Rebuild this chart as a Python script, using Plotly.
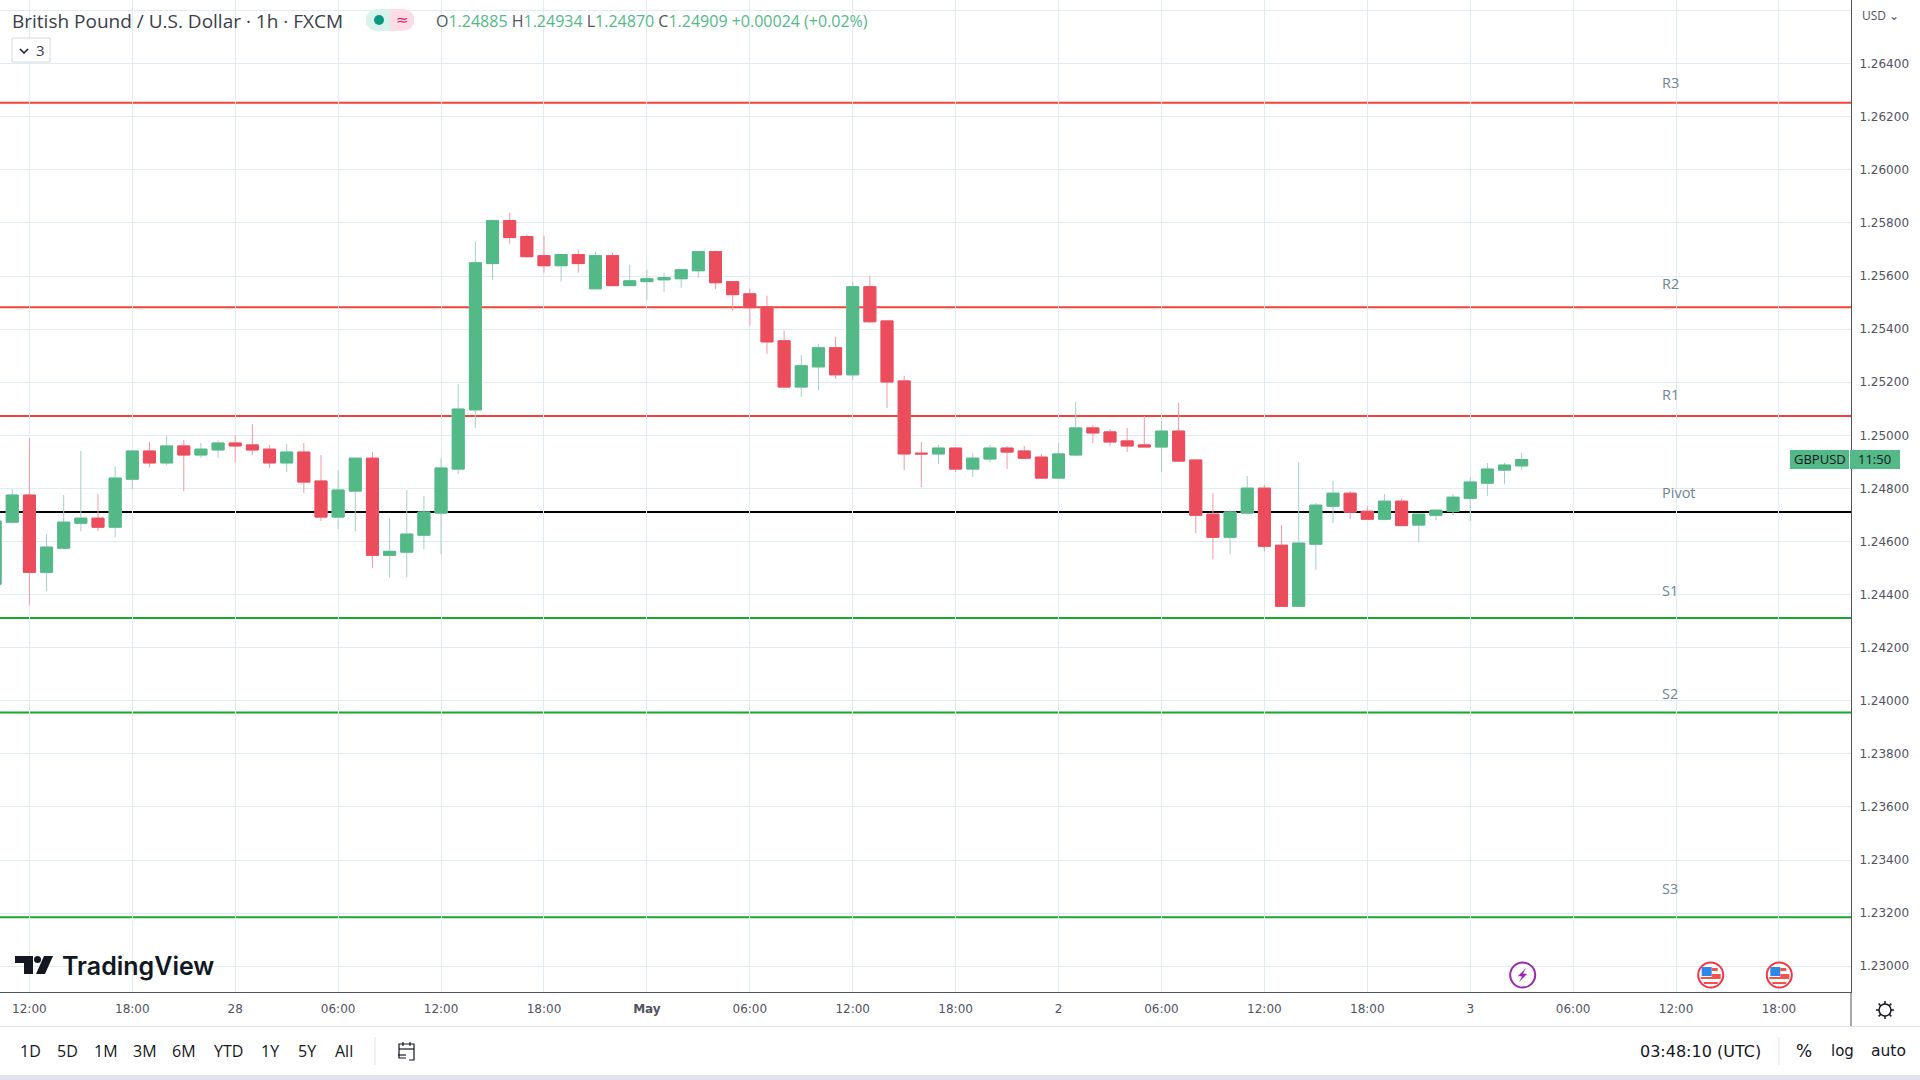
import math
import plotly.graph_objects as go

# candles from 27 Apr 10:00, one per hour
opens = [1.24439,1.24673,1.24775,1.24484,1.24575,1.24669,1.24688,1.24654,1.24835,1.24941,
         1.24896,1.24960,1.24926,1.24945,1.24971,1.24964,1.24948,1.24896,1.24937,1.24828,
         1.24692,1.24790,1.24914,1.24548,1.24560,1.24624,1.24707,1.24873,1.25096,1.25647,
         1.25809,1.25749,1.25677,1.25639,1.25681,1.25552,1.25677,1.25564,1.25579,1.25586,
         1.25590,1.25620,1.25692,1.25579,1.25533,1.25484,1.25356,1.25182,1.25258,1.25330,
         1.25228,1.25560,1.25431,1.25205,1.24933,1.24930,1.24952,1.24873,1.24911,1.24952,
         1.24941,1.24918,1.24839,1.24926,1.25028,1.25013,1.24979,1.24964,1.24956,1.25016,
         1.24907,1.24703,1.24616,1.24707,1.24801,1.24586,1.24356,1.24590,1.24733,1.24782,
         1.24714,1.24684,1.24752,1.24662,1.24699,1.24714,1.24763,1.24820,1.24869,1.24885]
highs = [1.24677,1.24797,1.24990,1.24628,1.24775,1.24941,1.24779,1.24884,1.24941,1.24975,
         1.24997,1.24982,1.24971,1.24982,1.25001,1.25043,1.24964,1.24967,1.24971,1.24926,
         1.24869,1.24914,1.24937,1.24688,1.24794,1.24771,1.24914,1.25194,1.25730,1.25813,
         1.25839,1.25756,1.25752,1.25684,1.25699,1.25692,1.25688,1.25643,1.25624,1.25613,
         1.25624,1.25692,1.25696,1.25582,1.25552,1.25526,1.25394,1.25303,1.25345,1.25371,
         1.25579,1.25601,1.25431,1.25224,1.24975,1.24964,1.24956,1.24933,1.24964,1.24960,
         1.24960,1.24930,1.24971,1.25126,1.25039,1.25024,1.25028,1.25073,1.25054,1.25122,
         1.24907,1.24782,1.24718,1.24847,1.24813,1.24662,1.24899,1.24745,1.24828,1.24790,
         1.24733,1.24779,1.24763,1.24703,1.24718,1.24779,1.24843,1.24896,1.24896,1.24934]
lows = [1.24439,1.24673,1.24360,1.24413,1.24571,1.24639,1.24639,1.24616,1.24797,1.24880,
        1.24888,1.24790,1.24914,1.24914,1.24899,1.24926,1.24877,1.24862,1.24782,1.24677,
        1.24647,1.24639,1.24499,1.24465,1.24465,1.24571,1.24552,1.24854,1.25028,1.25586,
        1.25722,1.25673,1.25613,1.25579,1.25613,1.25552,1.25564,1.25564,1.25511,1.25541,
        1.25556,1.25594,1.25552,1.25469,1.25413,1.25307,1.25179,1.25145,1.25171,1.25213,
        1.25209,1.25424,1.25103,1.24869,1.24805,1.24892,1.24862,1.24843,1.24899,1.24873,
        1.24914,1.24835,1.24839,1.24922,1.24971,1.24960,1.24937,1.24956,1.24862,1.24899,
        1.24631,1.24533,1.24552,1.24707,1.24563,1.24356,1.24356,1.24492,1.24669,1.24684,
        1.24684,1.24680,1.24658,1.24597,1.24680,1.24699,1.24677,1.24771,1.24816,1.24870]
closes = [1.24677,1.24775,1.24484,1.24579,1.24673,1.24688,1.24654,1.24839,1.24941,1.24896,
          1.24960,1.24926,1.24948,1.24971,1.24960,1.24945,1.24896,1.24937,1.24824,1.24692,
          1.24794,1.24914,1.24548,1.24563,1.24628,1.24711,1.24877,1.25099,1.25650,1.25809,
          1.25745,1.25673,1.25639,1.25681,1.25647,1.25677,1.25564,1.25582,1.25590,1.25594,
          1.25624,1.25692,1.25575,1.25530,1.25481,1.25352,1.25182,1.25262,1.25330,1.25228,
          1.25560,1.25428,1.25201,1.24930,1.24930,1.24952,1.24873,1.24914,1.24952,1.24937,
          1.24914,1.24839,1.24930,1.25028,1.25009,1.24975,1.24960,1.24956,1.25016,1.24903,
          1.24699,1.24616,1.24711,1.24801,1.24582,1.24356,1.24594,1.24737,1.24782,1.24711,
          1.24684,1.24752,1.24660,1.24703,1.24718,1.24767,1.24824,1.24873,1.24888,1.24909]

level_names = ["R3", "R2", "R1", "Pivot", "S1", "S2", "S3"]
level_values = [1.26253, 1.25483, 1.25073, 1.24711, 1.24312, 1.23956, 1.23185]
level_colors = ["#f44336", "#f44336", "#f44336", "#000000", "#19a82b", "#19a82b", "#19a82b"]
level_label_y = [83, 283, 394, 492, 590, 693, 888]

x_tick_labels = ["12:00", "18:00", "28", "06:00", "12:00", "18:00", "<b>May</b>", "06:00", "12:00",
                 "18:00", "2", "06:00", "12:00", "18:00", "3", "06:00", "12:00", "18:00"]
y_ticks = [1.23, 1.232, 1.234, 1.236, 1.238, 1.24, 1.242, 1.244, 1.246, 1.248, 1.25, 1.252,
           1.254, 1.256, 1.258, 1.26, 1.262, 1.264, 1.266]
y_tick_labels = ["%.5f" % v for v in y_ticks[:-1]] + [""]

range_labels = ["1D", "5D", "1M", "3M", "6M", "YTD", "1Y", "5Y", "All"]
range_label_x = [30, 67, 106, 145, 184, 228, 270, 307, 344]

PLOT_W = 1851
PLOT_H = 992
FONT = "DejaVu Sans"
NARROW = "Open Sans"
GREEN = "#53b987"
RED = "#eb4d5c"
DARK = "#131722"

bar_x = list(range(-2, len(opens) - 2))
x_ticks = list(range(0, 6 * len(x_tick_labels), 6))


def px(x):
    return x / PLOT_W


def py(y):
    return 1 - y / PLOT_H


def label(x, y, text, size=13, color=DARK, anchor="center", family=FONT, weight=None):
    fig.add_annotation(xref="paper", yref="paper", x=px(x), y=py(y), text=text, showarrow=False,
                       xanchor=anchor, yanchor="middle",
                       font=dict(size=size, color=color, family=family, weight=weight))


def box(x0, y0, x1, y1, fill, line=None, width=0, layer="above", opacity=1):
    fig.add_shape(type="rect", xref="paper", yref="paper", x0=px(x0), x1=px(x1), y0=py(y0), y1=py(y1),
                  fillcolor=fill, line=dict(color=line, width=width), layer=layer, opacity=opacity)


def dot(cx, cy, r, fill="rgba(0,0,0,0)", line=None, width=0):
    fig.add_shape(type="circle", xref="paper", yref="paper", x0=px(cx - r), x1=px(cx + r),
                  y0=py(cy + r), y1=py(cy - r), fillcolor=fill, line=dict(color=line, width=width))


def poly(points, fill="rgba(0,0,0,0)", line=None, width=0, close=True):
    path = "M " + " L ".join("%.5f,%.5f" % (px(a), py(b)) for a, b in points)
    if close:
        path += " Z"
    fig.add_shape(type="path", xref="paper", yref="paper", path=path, fillcolor=fill,
                  line=dict(color=line, width=width))


def seg(x0, y0, x1, y1, color, width=1):
    fig.add_shape(type="line", xref="paper", yref="paper", x0=px(x0), x1=px(x1), y0=py(y0), y1=py(y1),
                  line=dict(color=color, width=width))


def us_flag(cx, cy):
    dot(cx, cy, 12.5, "white", "#f23645", 2)
    box(cx - 9, cy - 8, cx + 1, cy + 1, "#2d87e8")
    box(cx + 1, cy - 7, cx + 7, cy - 4, "#f4524d")
    box(cx + 1, cy - 1, cx + 10, cy + 2, "#f4524d")
    box(cx - 10, cy + 2, cx + 10, cy + 4, "#f4524d")
    box(cx - 7, cy + 7, cx + 7, cy + 9, "#f4524d")


fig = go.Figure()

# wicks in a paler colour, bodies drawn over them
fig.add_trace(go.Candlestick(
    x=bar_x, open=opens, high=highs, low=lows, close=closes,
    increasing=dict(line=dict(color="#a3cfc8", width=1), fillcolor="#a3cfc8"),
    decreasing=dict(line=dict(color="#f796a5", width=1), fillcolor="#f796a5"),
    whiskerwidth=0, showlegend=False))
fig.add_trace(go.Candlestick(
    x=bar_x, open=opens, close=closes,
    high=[max(a, b) for a, b in zip(opens, closes)],
    low=[min(a, b) for a, b in zip(opens, closes)],
    increasing=dict(line=dict(color=GREEN, width=1), fillcolor=GREEN),
    decreasing=dict(line=dict(color=RED, width=1), fillcolor=RED),
    whiskerwidth=0, showlegend=False))

for name, value, color, ly in zip(level_names, level_values, level_colors, level_label_y):
    fig.add_shape(type="line", xref="paper", yref="y", x0=0, x1=1, y0=value, y1=value,
                  line=dict(color=color, width=2), layer="between")
    label(1660, ly, name, 14.5, "#6f8494", "left", NARROW)

# header
box(0, 9, 880, 33, "white", layer="between", opacity=0.75)
label(10, 21, "British Pound / U.S. Dollar · 1h · FXCM", 19, "#3a3e4a", "left", NARROW)
poly([(376, 9), (390, 9), (390, 31), (376, 31), (370, 29), (366, 24), (366, 16), (370, 11)], "#d9f2ec")
poly([(390, 9), (404, 9), (410, 11), (414, 16), (414, 24), (410, 29), (404, 31), (390, 31)], "#fcdde7")
dot(379, 20, 5, "#089981")
label(402, 20, "≈", 15, "#e91e63")
gray_o = '<span style="color:#50535e">%s</span>'
ohlc = (gray_o % "O" + "%.5f " % opens[-1] + gray_o % "H" + "%.5f " % highs[-1]
        + gray_o % "L" + "%.5f " % lows[-1] + gray_o % "C" + "%.5f " % closes[-1]
        + "+0.00024 (+0.02%)")
label(434, 21, ohlc, 16, GREEN, "left", NARROW)

box(12, 38, 50, 62, "white", "#d6d8e0", 1)
poly([(20, 49), (24, 53), (28, 49)], line=DARK, width=1.5, close=False)
label(40, 50, "3", 15, "#3a3e4a", family=NARROW)

# logo
poly([(15, 956), (33, 956), (33, 974), (24, 974), (24, 963), (15, 963)], DARK)
dot(37.5, 959.5, 3.5, DARK)
poly([(44, 956), (53, 956), (45, 974), (36, 974)], DARK)
label(60, 966, "TradingView", 25, DARK, "left", "Inter", weight=600)

# right scale extras
label(1880, 16, "USD ⌄", 12, "#50535e", family=NARROW)
box(1790, 450, 1849, 469, GREEN)
box(1850, 450, 1900, 469, GREEN)
label(1819.5, 459.5, "GBPUSD", 13, DARK, family=NARROW)
label(1875, 459.5, "11:50", 13, DARK, family=NARROW)

# event markers
dot(1522.7, 975, 12.5, "white", "#9c27b0", 2)
poly([(1526, 968), (1518, 976), (1522, 976.5), (1519, 982), (1527, 974), (1523, 973.5)], "#9c27b0")
us_flag(1710.7, 975)
us_flag(1779.3, 975)

# frames
seg(PLOT_W, 992, PLOT_W, 1026, "#50535e", 1)
seg(0, 1026.5, 1920, 1026.5, "#e0e3eb", 1)
box(0, 1075, 1920, 1080, "#e0e3eb")
seg(375, 1037, 375, 1065, "#e0e3eb", 1)
seg(1779, 1037, 1779, 1065, "#e0e3eb", 1)

# gear
dot(1885, 1010, 6, line=DARK, width=1.5)
for k in range(8):
    a = k * math.pi / 4
    seg(1885 + 6 * math.cos(a), 1010 + 6 * math.sin(a), 1885 + 9 * math.cos(a), 1010 + 9 * math.sin(a), DARK, 1.5)

# bottom toolbar
for tx, t in zip(range_label_x, range_labels):
    label(tx, 1051, t, 16, DARK, family=NARROW)
poly([(406, 1058), (399, 1058), (399, 1044), (414, 1044), (414, 1060), (409, 1060)], line=DARK, width=1.2, close=False)
seg(399, 1049, 414, 1049, DARK, 1.2)
seg(403, 1042, 403, 1046, DARK, 1.2)
seg(410, 1042, 410, 1046, DARK, 1.2)
seg(398, 1055, 406, 1055, DARK, 1.2)
label(1700, 1051, "03:48:10 (UTC)", 16, DARK)
label(1804, 1051, "%", 17, DARK)
label(1842, 1051, "log", 15, DARK)
label(1888.5, 1051, "auto", 15.5, DARK)

fig.update_xaxes(
    range=[-1.714, 106.2], tickvals=x_ticks, ticktext=x_tick_labels, showgrid=True, gridcolor="#e1ecf2",
    gridwidth=1, zeroline=False, rangeslider_visible=False, showline=True, linecolor="#50535e", linewidth=1,
    ticks="outside", ticklen=6, tickcolor="rgba(0,0,0,0)", tickfont=dict(size=12, color="#50535e", family=FONT))
fig.update_yaxes(
    range=[1.22903, 1.2664], side="right", tickvals=y_ticks, ticktext=y_tick_labels, showgrid=True,
    gridcolor="#e1ecf2", gridwidth=1, zeroline=False, showline=True, linecolor="#50535e", linewidth=1,
    ticks="outside", ticklen=5, tickcolor="rgba(0,0,0,0)", tickfont=dict(size=12, color="#50535e", family=FONT))
fig.update_layout(width=1920, height=1080, margin=dict(l=0, r=69, t=0, b=88, autoexpand=False),
                  paper_bgcolor="white", plot_bgcolor="white", boxgap=0.3, boxgroupgap=0, showlegend=False,
                  dragmode=False, hovermode=False)

fig.write_html("out.html", config=dict(displayModeBar=False),
               post_script="document.body.style.margin='0';document.body.style.overflow='hidden';")
